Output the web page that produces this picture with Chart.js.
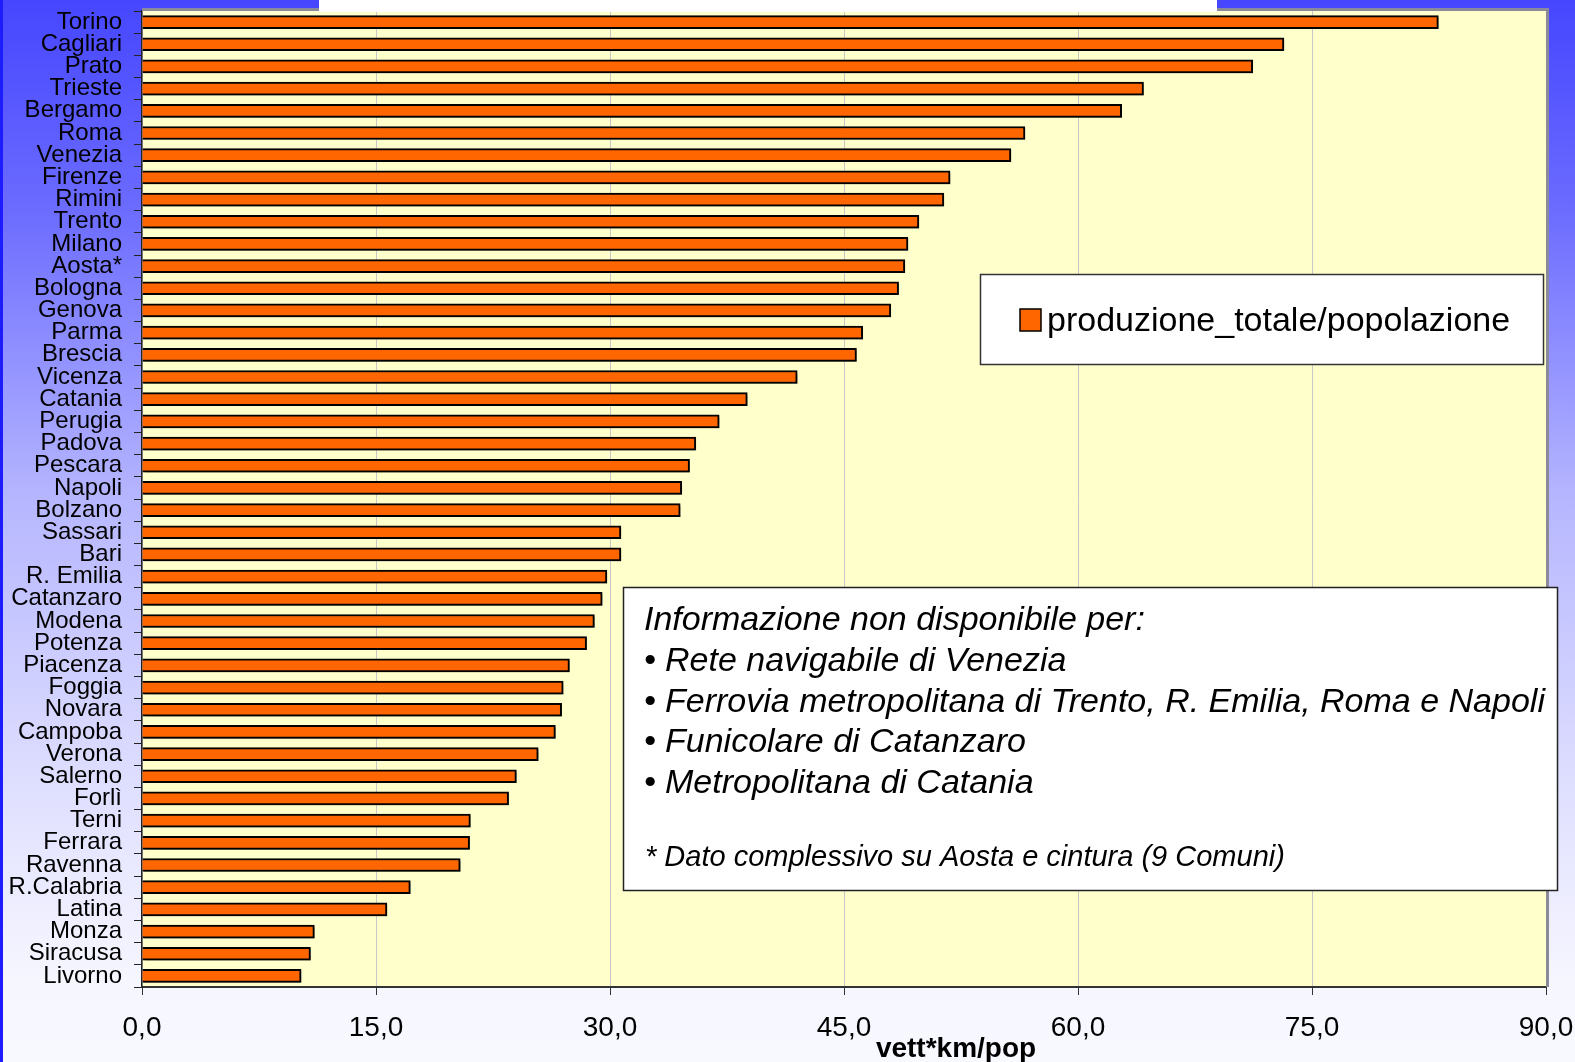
<!DOCTYPE html>
<html>
<head>
<meta charset="utf-8">
<script src="https://cdn.jsdelivr.net/npm/chart.js@4.4.1/dist/chart.umd.min.js"></script>
<style>
    html, body { margin: 0; padding: 0; }
    body {
        width: 1575px; height: 1062px; overflow: hidden; box-sizing: border-box;
        border-left: 3px solid #1c1cff;
        background: linear-gradient(to bottom, #4646ff 0%, #6c6cff 20%, #b6b6ff 47%, #dcdcff 72%, #f6f6ff 92%, #f8f8ff 100%);
    }
    #wrap { position: absolute; left: 0; top: 0; width: 1575px; height: 1062px; }
</style>
</head>
<body>
<div id="wrap"><canvas id="chart1" width="1575" height="1062"></canvas></div>
<script>
// dati: produzione totale / popolazione (vett*km/pop)
const cities = ['Torino', 'Cagliari', 'Prato', 'Trieste', 'Bergamo', 'Roma', 'Venezia', 'Firenze', 'Rimini', 'Trento',
    'Milano', 'Aosta*', 'Bologna', 'Genova', 'Parma', 'Brescia', 'Vicenza', 'Catania', 'Perugia', 'Padova',
    'Pescara', 'Napoli', 'Bolzano', 'Sassari', 'Bari', 'R. Emilia', 'Catanzaro', 'Modena', 'Potenza', 'Piacenza',
    'Foggia', 'Novara', 'Campoba', 'Verona', 'Salerno', 'Forlì', 'Terni', 'Ferrara', 'Ravenna', 'R.Calabria',
    'Latina', 'Monza', 'Siracusa', 'Livorno'];
const values = [83.1, 73.2, 71.2, 64.2, 62.8, 56.6, 55.7, 51.8, 51.4, 49.8,
    49.1, 48.9, 48.5, 48.0, 46.2, 45.8, 42.0, 38.8, 37.0, 35.5,
    35.1, 34.6, 34.5, 30.7, 30.7, 29.8, 29.5, 29.0, 28.5, 27.4,
    27.0, 26.9, 26.5, 25.4, 24.0, 23.5, 21.05, 21.0, 20.4, 17.2,
    15.7, 11.05, 10.8, 10.2];
const seriesName = 'produzione_totale/popolazione';
const xTicks = [0, 15, 30, 45, 60, 75, 90];
const axisTitle = 'vett*km/pop';
const noteTitle = 'Informazione non disponibile per:';
const noteItems = ['Rete navigabile di Venezia', 'Ferrovia metropolitana di Trento, R. Emilia, Roma e Napoli',
    'Funicolare di Catanzaro', 'Metropolitana di Catania'];
const noteFoot = '* Dato complessivo su Aosta e cintura (9 Comuni)';

const FONT = "'Liberation Sans', Arial, Helvetica, sans-serif";

// sfondo giallo dell'area del grafico + ombra sulle barre
const plotBg = {
    id: 'plotBg',
    beforeDraw(chart) {
        const { ctx, chartArea: a } = chart;
        ctx.save();
        ctx.fillStyle = '#ffffcc';
        ctx.fillRect(a.left, a.top, a.right - a.left, a.bottom - a.top);
        ctx.restore();
    },
    beforeDatasetsDraw(chart) {
        const ctx = chart.ctx;
        ctx.save();
        ctx.shadowColor = 'rgba(0,0,0,0.22)';
        ctx.shadowOffsetX = 2;
        ctx.shadowOffsetY = 2;
        ctx.shadowBlur = 1;
    },
    afterDatasetsDraw(chart) {
        chart.ctx.restore();
    }
};

// bordo, legenda, riquadro note, titolo asse
const extras = {
    id: 'extras',
    afterDraw(chart) {
        const { ctx, chartArea: a } = chart;
        const ds = chart.data.datasets[0];
        ctx.save();

        // bordo grigio alto/destra
        ctx.strokeStyle = '#8a8a9a';
        ctx.lineWidth = 3;
        ctx.beginPath();
        ctx.moveTo(a.left, a.top - 1.5);
        ctx.lineTo(a.right + 1.5, a.top - 1.5);
        ctx.lineTo(a.right + 1.5, a.bottom);
        ctx.stroke();

        // riquadro bianco del titolo (tagliato)
        ctx.fillStyle = '#ffffff';
        ctx.fillRect(319, 0, 898, 12);

        // legenda
        ctx.fillStyle = '#ffffff';
        ctx.fillRect(980, 274, 564, 91);
        ctx.strokeStyle = '#333333';
        ctx.lineWidth = 1.5;
        ctx.strokeRect(980.5, 274.5, 563, 90);
        ctx.fillStyle = ds.backgroundColor;
        ctx.fillRect(1020, 309, 21, 22);
        ctx.strokeStyle = '#000000';
        ctx.strokeRect(1020, 309, 21, 22);
        ctx.fillStyle = '#000000';
        ctx.font = '34px ' + FONT;
        ctx.textBaseline = 'alphabetic';
        ctx.textAlign = 'left';
        ctx.fillText(ds.label, 1047, 331);

        // riquadro note
        ctx.fillStyle = '#ffffff';
        ctx.fillRect(623, 587, 935, 304);
        ctx.strokeStyle = '#222222';
        ctx.strokeRect(623.5, 587.5, 934, 303);
        ctx.fillStyle = '#000000';
        ctx.font = 'italic 34px ' + FONT;
        ctx.fillText(noteTitle, 644, 630);
        noteItems.forEach((t, i) => {
            const y = 671 + i * 40.5;
            ctx.fillText('\u2022', 644, y);
            ctx.fillText(t, 665, y);
        });
        ctx.font = 'italic 29px ' + FONT;
        ctx.fillText(noteFoot, 645, 866);

        // titolo asse x
        ctx.font = 'bold 28px ' + FONT;
        ctx.textAlign = 'center';
        ctx.fillText(axisTitle, 956, 1057);
        ctx.restore();
    }
};

new Chart(document.querySelector('#chart1'), {
    type: 'bar',
    data: {
        labels: cities,
        datasets: [{
            label: seriesName,
            data: values,
            backgroundColor: '#ff6600',
            borderColor: '#000000',
            borderWidth: 2,
            borderSkipped: 'start',
            barThickness: 13
        }]
    },
    options: {
        indexAxis: 'y',
        responsive: false,
        animation: false,
        layout: { padding: { left: 0, top: 11, right: 29, bottom: 0 } },
        plugins: {
            legend: { display: false },
            tooltip: { enabled: false }
        },
        scales: {
            x: {
                min: xTicks[0],
                max: xTicks[xTicks.length - 1],
                afterFit: s => { s.height = 75; s.paddingLeft = 0; s.paddingRight = 0; },
                afterBuildTicks: s => { s.ticks = xTicks.map(v => ({ value: v })); },
                border: { display: true, color: '#333333', width: 2 },
                grid: {
                    color: '#c8c8c8',
                    lineWidth: 1,
                    tickColor: '#333333',
                    tickLength: 8,
                    drawTicks: true
                },
                ticks: {
                    color: '#000000',
                    padding: 16,
                    maxRotation: 0,
                    font: { family: FONT, size: 28 },
                    callback: v => v.toFixed(1).replace('.', ',')
                }
            },
            y: {
                afterFit: s => { s.width = 142; s.paddingTop = 0; s.paddingBottom = 0; },
                border: { display: true, color: '#222222', width: 1.5 },
                grid: {
                    offset: true,
                    drawOnChartArea: false,
                    tickColor: '#222222',
                    tickLength: 8
                },
                ticks: {
                    color: '#000000',
                    padding: 12,
                    autoSkip: false,
                    font: { family: FONT, size: 24 }
                }
            }
        }
    },
    plugins: [plotBg, extras]
});
</script>
</body>
</html>
